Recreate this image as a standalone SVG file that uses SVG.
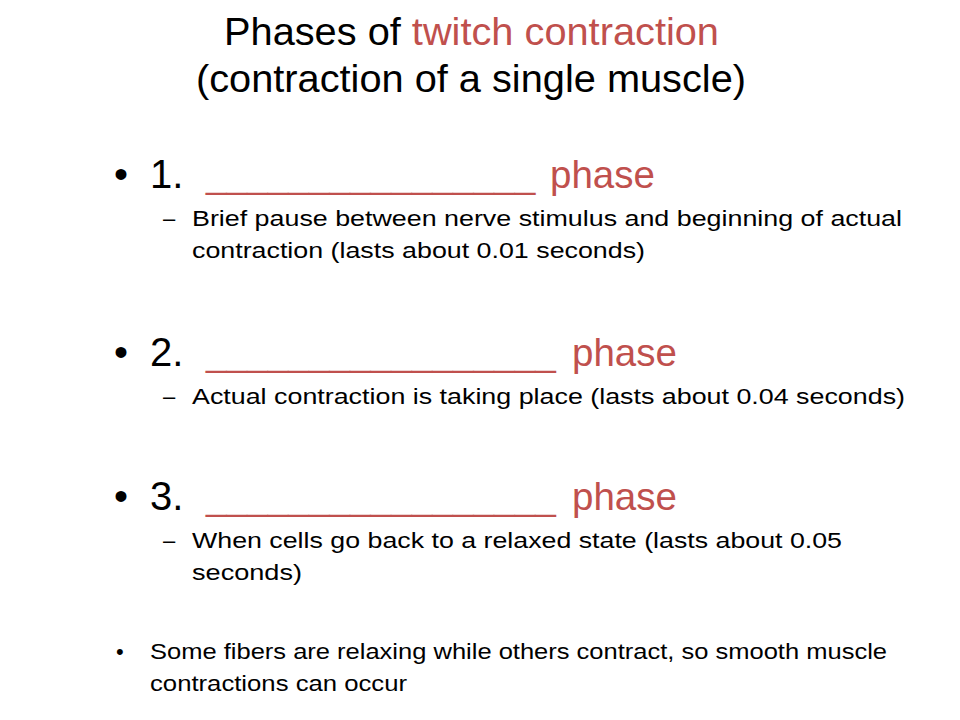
<svg xmlns="http://www.w3.org/2000/svg" width="960" height="720" viewBox="0 0 960 720">
<style>
text{font-family:"Liberation Sans",Arial,sans-serif;fill:#000}
.t{font-size:38px}
.h{font-size:40px}
.p{font-size:38.5px}
.u{font-size:37px}
.s{font-size:22px}
.f{font-size:22px}
.r{fill:#C0504D}
</style>
<rect width="960" height="720" fill="#fff"/>
<g id="title">
<text class="t" x="224" y="45" textLength="495" lengthAdjust="spacingAndGlyphs">Phases of <tspan class="r">twitch contraction</tspan></text>
<text class="t" x="196" y="92" textLength="550" lengthAdjust="spacingAndGlyphs">(contraction of a single muscle)</text>
</g>
<g id="item1">
<text class="h" x="114" y="188">•</text>
<text class="h" x="150" y="188">1.</text>
<text class="p r" x="206" y="188"><tspan class="u">________________</tspan><tspan x="550">phase</tspan></text>
<text class="s" x="163" y="226">–</text>
<text class="s" x="192" y="226" textLength="710" lengthAdjust="spacingAndGlyphs">Brief pause between nerve stimulus and beginning of actual</text>
<text class="s" x="192" y="258" textLength="453" lengthAdjust="spacingAndGlyphs">contraction (lasts about 0.01 seconds)</text>
</g>
<g id="item2">
<text class="h" x="114" y="366">•</text>
<text class="h" x="150" y="366">2.</text>
<text class="p r" x="206" y="366"><tspan class="u">_________________</tspan><tspan x="572">phase</tspan></text>
<text class="s" x="163" y="404">–</text>
<text class="s" x="192" y="404" textLength="713" lengthAdjust="spacingAndGlyphs">Actual contraction is taking place (lasts about 0.04 seconds)</text>
</g>
<g id="item3">
<text class="h" x="114" y="510">•</text>
<text class="h" x="150" y="510">3.</text>
<text class="p r" x="206" y="510"><tspan class="u">_________________</tspan><tspan x="572">phase</tspan></text>
<text class="s" x="163" y="548">–</text>
<text class="s" x="192" y="548" textLength="650" lengthAdjust="spacingAndGlyphs">When cells go back to a relaxed state (lasts about 0.05</text>
<text class="s" x="192" y="580" textLength="110" lengthAdjust="spacingAndGlyphs">seconds)</text>
</g>
<g id="note">
<text class="f" x="116" y="659">•</text>
<text class="f" x="150" y="659" textLength="737" lengthAdjust="spacingAndGlyphs">Some fibers are relaxing while others contract, so smooth muscle</text>
<text class="f" x="150" y="691" textLength="257" lengthAdjust="spacingAndGlyphs">contractions can occur</text>
</g>
</svg>
